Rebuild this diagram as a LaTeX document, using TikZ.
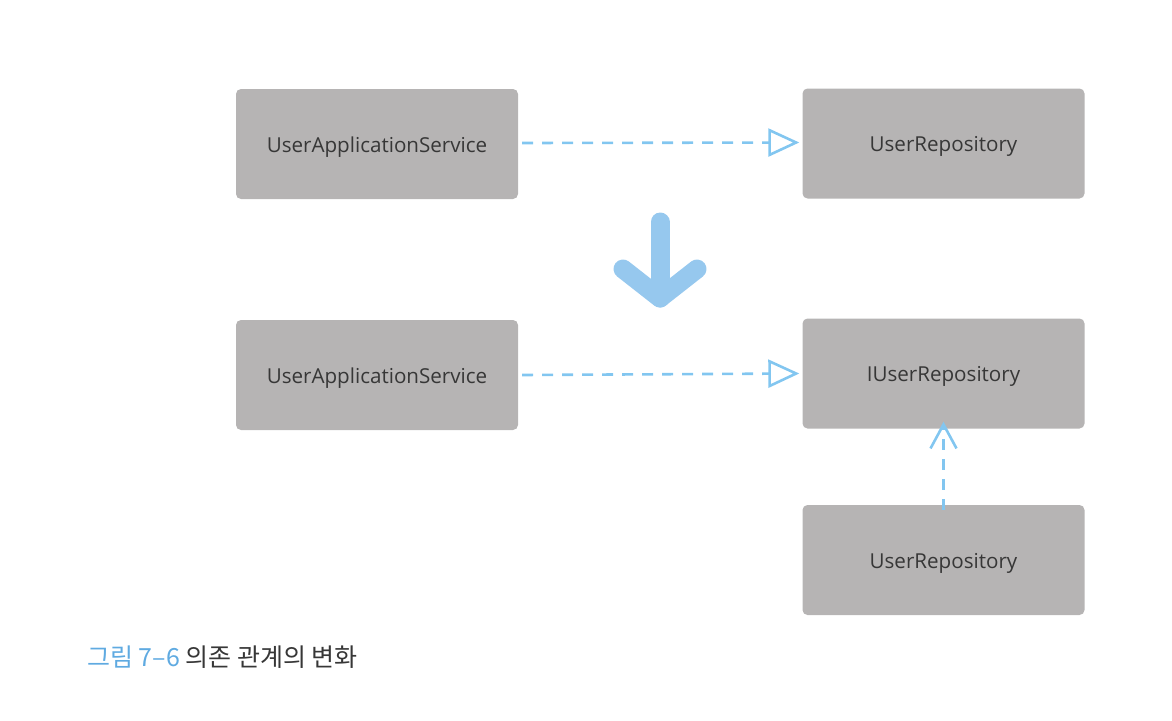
\documentclass[tikz,border=0pt]{standalone}
\usepackage{fontspec}
\setmainfont{Open Sans}
\newfontfamily\kofont{Noto Sans CJK KR}
\usetikzlibrary{arrows.meta}
\definecolor{boxgray}{RGB}{182,180,180}
\definecolor{txtgray}{RGB}{55,55,55}
\definecolor{dashblue}{RGB}{130,198,240}
\definecolor{bigblue}{RGB}{150,200,238}
\definecolor{capblue}{RGB}{95,170,225}
\newcommand{\boxtext}[1]{\raisebox{-8pt}[0pt][0pt]{#1}}
\tikzset{
  box/.style={fill=boxgray, rounded corners=5pt, minimum width=282pt, minimum height=110pt, inner sep=0pt, text=txtgray, font=\fontsize{20.6}{24}\selectfont},
  dep/.style={draw=dashblue, line width=2.6pt, dash pattern=on 11pt off 9pt, -{Triangle[open, length=31pt, width=28pt, line width=2.6pt]}},
  impl/.style={draw=dashblue, line width=2.6pt, dash pattern=on 11pt off 9pt, -{Straight Barb[length=24pt, width=26pt, line width=2.6pt]}},
}
\begin{document}
\begin{tikzpicture}[x=1pt,y=-1pt]
\useasboundingbox (0,0) rectangle (1172,720);
\node[box] (uas1) at (377,144) {\boxtext{UserApplicationService}};
\node[box] (ur1) at (943.5,143.5) {\boxtext{UserRepository}};
\node[box] (uas2) at (377,375) {\boxtext{UserApplicationService}};
\node[box] (iur) at (943.5,373.5) {\boxtext{IUserRepository}};
\node[box] (ur2) at (943.5,560) {\boxtext{UserRepository}};
\draw[dep] ([xshift=4pt,yshift=1pt]uas1.east) -- ([xshift=-3pt,yshift=1pt]ur1.west);
\draw[dep] ([xshift=4pt]uas2.east) -- ([xshift=-3pt]iur.west);
\draw[impl] ([yshift=-5pt]ur2.north) -- ([yshift=7pt]iur.south);
\coordinate (bt) at (660,222);
\coordinate (bb) at (660,298);
\draw[bigblue, line width=19pt, line cap=round, line join=round] (bt) -- (bb);
\draw[bigblue, line width=19pt, line cap=round, line join=round] (623,269) -- (bb) -- (697,269);
\node[anchor=west, inner sep=0pt, font=\kofont\fontsize{25}{29}\selectfont] (cap) at (87,657) {\textcolor{capblue}{그림 7–6} \textcolor{txtgray}{의존 관계의 변화}};
\end{tikzpicture}
\end{document}
